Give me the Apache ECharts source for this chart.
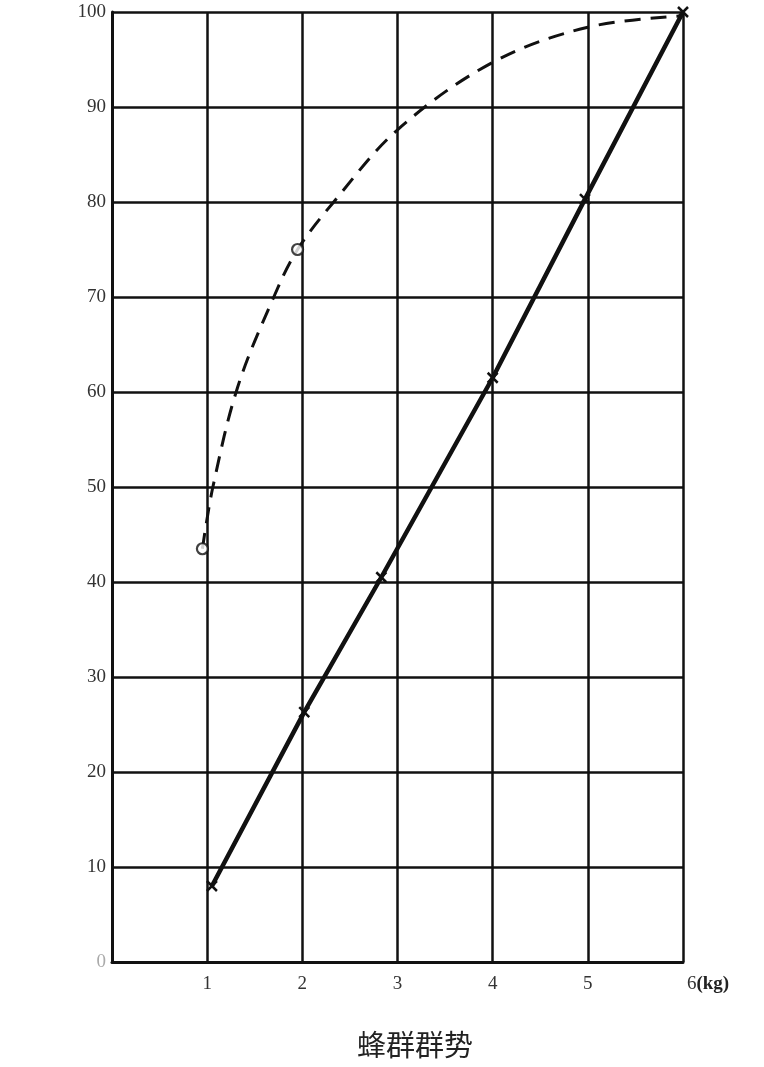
<!DOCTYPE html>
<html><head><meta charset="utf-8">
<script src="https://cdn.jsdelivr.net/npm/echarts@6/dist/echarts.min.js"></script>
<style>html,body{margin:0;padding:0;background:#fff}#c{width:764px;height:1067px}</style>
</head><body><div id="c"></div>
<script>
// Data
const xTicks = [0, 1, 2, 3, 4, 5, 6];
const yTicks = [0, 10, 20, 30, 40, 50, 60, 70, 80, 90, 100];
const xUnit = '(kg)';
const xTitle = '蜂群群势';
// solid straight line with cross markers
const solidX = [1.05, 2.02, 2.83, 4.0, 4.97, 6.0];
const solidY = [8, 26.3, 40.5, 61.5, 80.3, 100];
// dashed curve (trace)
const curveX = [0.95, 1.06, 1.32, 1.7, 1.95, 2.33, 3.0, 4.0, 5.0, 6.0];
const curveY = [43.5, 50, 60.5, 70, 75, 80, 87.6, 94.7, 98.4, 99.6];
// circle markers on the dashed curve
const circleX = [0.95, 1.95];
const circleY = [43.5, 75];

const serif = '"Liberation Serif","DejaVu Serif",serif';
const chart = echarts.init(document.getElementById('c'), null, {renderer: 'canvas'});
const zip = (a, b) => a.map((v, i) => [v, b[i]]);
const crossPath = 'path://M0,0L10,10M10,0L0,10';

chart.setOption({
  animation: false,
  backgroundColor: '#fff',
  grid: {left: 112, top: 12, right: 81, bottom: 105, show: false},
  xAxis: {
    type: 'value', min: 0, max: 6, interval: 1,
    axisLine: {show: true, lineStyle: {color: '#111', width: 3}},
    axisTick: {show: false},
    splitLine: {show: true, lineStyle: {color: '#111', width: 2.5}},
    axisLabel: {
      show: true, showMaxLabel: true, showMinLabel: false, margin: 13,
      color: '#333', fontFamily: serif, fontSize: 19,
      formatter: v => v === 6 ? '{p|}{a|6}{b|' + xUnit + '}' : (xTicks.indexOf(v) > 0 ? String(v) : ''),
      rich: {
        p: {width: 50},
        a: {fontFamily: serif, fontSize: 19, color: '#333'},
        b: {fontFamily: serif, fontSize: 19, fontWeight: 'bold', color: '#222'}
      }
    }
  },
  yAxis: {
    type: 'value', min: 0, max: 100, interval: 10,
    axisLine: {show: true, lineStyle: {color: '#111', width: 3}},
    axisTick: {show: false},
    splitLine: {show: true, lineStyle: {color: '#111', width: 2.5}},
    axisLabel: {
      show: true, margin: 6, fontFamily: serif, fontSize: 19, color: '#333',
      formatter: v => v === 0 ? '{z|0}' : (yTicks.indexOf(v) >= 0 ? String(v) : ''),
      rich: {z: {fontFamily: serif, fontSize: 19, color: '#aaa'}}
    }
  },
  series: [
    {
      type: 'line', data: zip(curveX, curveY), smooth: 0.35,
      showSymbol: false, symbol: 'none',
      lineStyle: {color: '#111', width: 3, type: [16, 10]}, z: 3
    },
    {
      type: 'scatter', data: zip(circleX, circleY), symbol: 'circle', symbolSize: 11,
      itemStyle: {color: '#fff', borderColor: '#111', borderWidth: 2.2}, z: 5
    },
    {
      type: 'line', data: zip(solidX, solidY), smooth: false, symbol: crossPath, symbolSize: 10,
      showSymbol: true,
      itemStyle: {color: '#111', borderColor: '#111', borderWidth: 2.5},
      lineStyle: {color: '#111', width: 4.5}, z: 4
    }
  ],
  graphic: [{
    type: 'text', left: 357, top: 1030,
    style: {text: xTitle, fontFamily: '"Noto Sans CJK SC",sans-serif', fontSize: 29, fill: '#222'}
  }]
});
</script></body></html>
